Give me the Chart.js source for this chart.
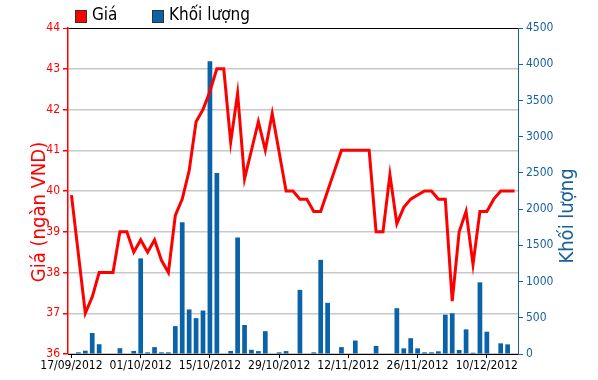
<!DOCTYPE html>
<html>
<head>
<meta charset="utf-8">
<script src="https://cdn.jsdelivr.net/npm/chart.js@4.4.0/dist/chart.umd.min.js"></script>
<style>
  html, body { margin: 0; padding: 0; background: #fff; }
</style>
</head>
<body>
<canvas id="bieuDo" width="598" height="380"></canvas>
<script>
// phien giao dich (ngay lam viec)
const ngay = [
  '17/09/2012','18/09/2012','19/09/2012','20/09/2012','21/09/2012',
  '24/09/2012','25/09/2012','26/09/2012','27/09/2012','28/09/2012',
  '01/10/2012','02/10/2012','03/10/2012','04/10/2012','05/10/2012',
  '08/10/2012','09/10/2012','10/10/2012','11/10/2012','12/10/2012',
  '15/10/2012','16/10/2012','17/10/2012','18/10/2012','19/10/2012',
  '22/10/2012','23/10/2012','24/10/2012','25/10/2012','26/10/2012',
  '29/10/2012','30/10/2012','31/10/2012','01/11/2012','02/11/2012',
  '05/11/2012','06/11/2012','07/11/2012','08/11/2012','09/11/2012',
  '12/11/2012','13/11/2012','14/11/2012','15/11/2012','16/11/2012',
  '19/11/2012','20/11/2012','21/11/2012','22/11/2012','23/11/2012',
  '26/11/2012','27/11/2012','28/11/2012','29/11/2012','30/11/2012',
  '03/12/2012','04/12/2012','05/12/2012','06/12/2012','07/12/2012',
  '10/12/2012','11/12/2012','12/12/2012','13/12/2012','14/12/2012'
];

// gia (ngan VND)
const gia = [
  39.9, 38.45, 37.0, 37.4, 38.0, 38.0, 38.0, 39.0, 39.0, 38.5,
  38.8, 38.5, 38.8, 38.3, 38.0, 39.4, 39.8, 40.5, 41.7, 42.0,
  42.45, 43.0, 43.0, 41.2, 42.4, 40.3, 41.0, 41.7, 41.0, 41.9,
  40.95, 40.0, 40.0, 39.8, 39.8, 39.5, 39.5, 40.0, 40.5, 41.0,
  41.0, 41.0, 41.0, 41.0, 39.0, 39.0, 40.4, 39.2, 39.6, 39.8,
  39.9, 40.0, 40.0, 39.8, 39.8, 37.3, 39.0, 39.5, 38.2, 39.5,
  39.5, 39.8, 40.0, 40.0, 40.0
];

// khoi luong
const khoiLuong = [
  0, 23, 46, 290, 135, 0, 0, 80, 0, 42,
  1320, 23, 95, 23, 23, 385, 1820, 615, 495, 600,
  4040, 2500, 0, 42, 1608, 400, 58, 40, 315, 0,
  23, 40, 0, 885, 0, 23, 1300, 706, 0, 95,
  0, 186, 0, 0, 112, 0, 0, 632, 78, 218,
  78, 23, 23, 37, 543, 562, 55, 340, 18, 989,
  308, 0, 147, 133, 0
];

const nhanTrucX = ['17/09/2012','01/10/2012','15/10/2012','29/10/2012','12/11/2012','26/11/2012','10/12/2012'];

const DO = '#ff0000';
const XANH = '#0a62a9';
const XANH_CHU = '#185f9c';
const FONT = '"Liberation Sans Narrow", "DejaVu Sans Condensed", "Liberation Sans", Arial, sans-serif';

// chu thich va tieu de truc
const veThem = {
  id: 'veThem',
  afterDraw(chart) {
    const ctx = chart.ctx;
    ctx.save();
    ctx.font = '17px ' + FONT;
    ctx.textBaseline = 'middle';
    ctx.textAlign = 'left';
    const muc = [
      { x: 75, mau: DO, ten: 'Giá' },
      { x: 152, mau: XANH, ten: 'Khối lượng' }
    ];
    muc.forEach(m => {
      ctx.fillStyle = m.mau;
      ctx.fillRect(m.x, 10, 11, 12);
      ctx.strokeStyle = '#333';
      ctx.lineWidth = 1;
      ctx.strokeRect(m.x + 0.5, 10.5, 11, 12);
      ctx.fillStyle = '#000';
      ctx.fillText(m.ten, m.x + 17, 16);
    });

    ctx.font = '20px ' + FONT;
    ctx.textAlign = 'center';
    ctx.fillStyle = DO;
    ctx.translate(40, 212);
    ctx.rotate(-Math.PI / 2);
    ctx.fillText('Giá (ngàn VND)', 0, 0);
    ctx.restore();

    ctx.save();
    ctx.font = '20px ' + FONT;
    ctx.textAlign = 'center';
    ctx.textBaseline = 'middle';
    ctx.fillStyle = XANH_CHU;
    ctx.translate(568, 216);
    ctx.rotate(-Math.PI / 2);
    ctx.fillText('Khối lượng', 0, 0);
    ctx.restore();
  }
};

new Chart(document.getElementById('bieuDo'), {
  type: 'bar',
  data: {
    labels: ngay,
    datasets: [
      {
        type: 'line',
        label: 'Giá',
        data: gia,
        yAxisID: 'y',
        borderColor: DO,
        backgroundColor: DO,
        borderWidth: 3,
        pointRadius: 0,
        tension: 0,
        order: 0
      },
      {
        type: 'bar',
        label: 'Khối lượng',
        data: khoiLuong,
        yAxisID: 'y1',
        backgroundColor: XANH,
        barPercentage: 0.68,
        categoryPercentage: 1,
        order: 1
      }
    ]
  },
  options: {
    responsive: false,
    animation: false,
    layout: { padding: { top: 28 } },
    plugins: {
      legend: { display: false },
      tooltip: { enabled: false }
    },
    scales: {
      x: {
        offset: true,
        afterFit: s => { s.height = 26; },
        grid: {
          display: true,
          drawOnChartArea: false,
          offset: false,
          color: '#000',
          tickLength: 4
        },
        border: { color: '#000', width: 1 },
        ticks: {
          autoSkip: false,
          maxRotation: 0,
          padding: 1,
          color: '#000',
          font: { family: FONT, size: 12 },
          callback: function (v, i) {
            const nhan = ngay[i];
            return nhanTrucX.includes(nhan) ? nhan : null;
          }
        }
      },
      y: {
        position: 'left',
        min: 36,
        max: 44,
        afterFit: s => { s.width = 68; },
        ticks: {
          stepSize: 1,
          color: DO,
          padding: 3,
          font: { family: FONT, size: 12 }
        },
        grid: {
          color: c => (c.tick && c.tick.value === 44 ? '#000' : '#c8c8c8'),
          lineWidth: c => (c.tick && c.tick.value === 44 ? 1 : 1.5),
          tickColor: DO,
          tickLength: 5
        },
        border: { color: DO, width: 1.5 }
      },
      y1: {
        position: 'right',
        min: 0,
        max: 4500,
        afterFit: s => { s.width = 80; },
        ticks: {
          stepSize: 500,
          color: XANH_CHU,
          padding: 3,
          font: { family: FONT, size: 12 },
          callback: v => String(v)
        },
        grid: {
          drawOnChartArea: false,
          tickColor: XANH_CHU,
          tickLength: 5
        },
        border: { color: XANH_CHU, width: 1 }
      }
    }
  },
  plugins: [veThem]
});
</script>
</body>
</html>
